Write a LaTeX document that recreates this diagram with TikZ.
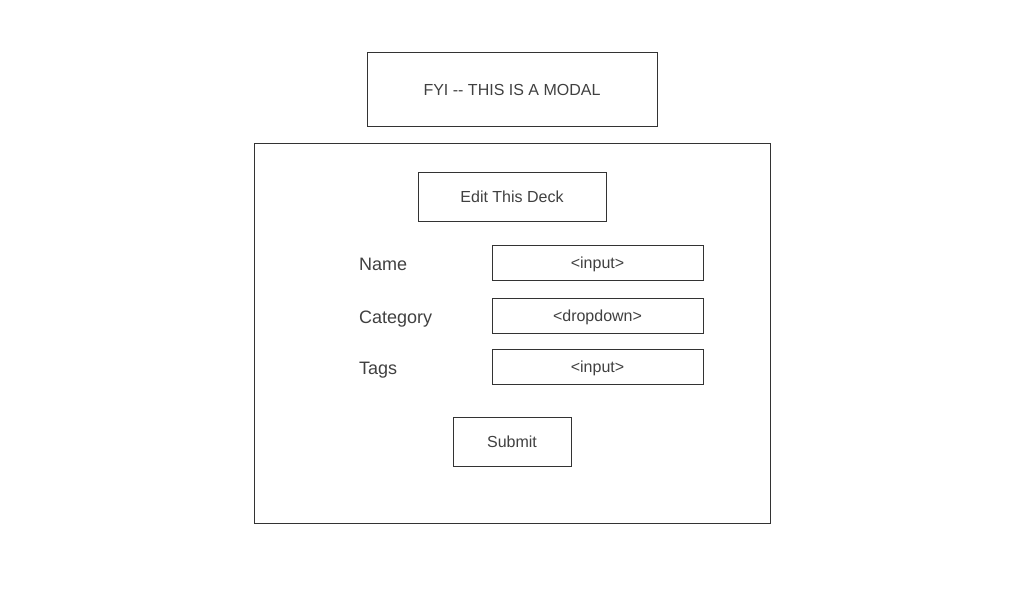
\documentclass[tikz,border=0pt]{standalone}
\usepackage{fontspec}
\setmainfont{Liberation Sans}
\usepackage{xcolor}
\definecolor{inkgray}{RGB}{64,64,64}
\definecolor{linegray}{RGB}{51,51,51}
\tikzset{%
    box/.style={draw=linegray, text=inkgray, inner sep=0pt, text depth=0pt, font=\fontsize{16}{19}\selectfont},
    label/.style={text=inkgray, anchor=west, inner sep=0pt, text depth=0pt, font=\fontsize{18}{22}\selectfont}
}

\begin{document}
\begin{tikzpicture}[x=1pt,y=-1pt]
    \useasboundingbox (0,0) rectangle (1023,600);
    \node[box, minimum width=290pt, minimum height=74pt] (modalnote) at (512,89.5) {FYI -{}- THIS IS A MODAL};
    \node[box, minimum width=516pt, minimum height=380pt] (modal) at (512,333) {};
    \node[box, minimum width=188pt, minimum height=49pt] (title) at (512,196.5) {Edit This Deck};
    \node[label] (namelabel) at (359,264) {Name};
    \node[label] (catlabel) at (359,317) {Category};
    \node[label] (tagslabel) at (359,368) {Tags};
    \node[box, minimum width=211pt, minimum height=35pt] (nameinput) at (597.5,262.5) {<input>};
    \node[box, minimum width=211pt, minimum height=35pt] (catinput) at (597.5,315.5) {<dropdown>};
    \node[box, minimum width=211pt, minimum height=35pt] (tagsinput) at (597.5,366.5) {<input>};
    \node[box, minimum width=118pt, minimum height=49pt] (submit) at (512,441.5) {Submit};
\end{tikzpicture}
\end{document}
